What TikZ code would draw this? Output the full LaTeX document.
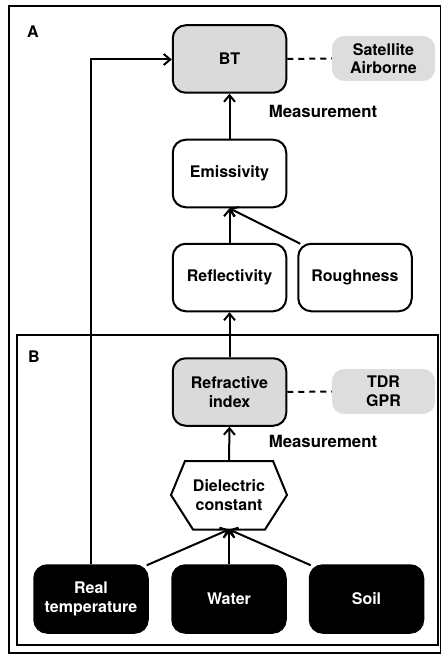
\documentclass[tikz,border=0pt]{standalone}
\usepackage{fontspec}
\setmainfont{TeX Gyre Heros}
\usetikzlibrary{arrows.meta}
\definecolor{boxgray}{HTML}{DADADA}
\definecolor{labgray}{HTML}{DDDDDD}
\begin{document}
\begin{tikzpicture}[x=1pt,y=-1pt,
 every node/.style={font=\fontsize{16}{18.5}\selectfont\bfseries, align=center},
 wbox/.style={draw, line width=2pt, rounded corners=13pt, minimum width=113.5pt, minimum height=67.5pt, inner sep=0pt, fill=white},
 gbox/.style={wbox, fill=boxgray},
 kbox/.style={wbox, fill=black, text=white},
 tag/.style={fill=labgray, rounded corners=12pt, minimum width=103pt, minimum height=45pt, inner sep=0pt},
 meas/.style={font=\fontsize{16.8}{19}\selectfont\bfseries},
 arr/.style={line width=2pt, -{Straight Barb[length=6.5pt,width=11pt,line width=2pt]}},
 dlink/.style={line width=2pt, dash pattern=on 6pt off 5pt},
 frame/.style={line width=1.8pt}]
\useasboundingbox (0,0) rectangle (441,655);
% frames
\draw[frame] (9,6) rectangle (441,653);
\draw[frame] (17,335) rectangle (438,645);
\node (labA) at (33,32) {A};
\node (labB) at (34,357) {B};
% nodes
\node[gbox] (bt) at (229.5,59) {BT};
\node[tag] (sat) at (383.5,58.5) {Satellite\\Airborne};
\node[meas] (meas1) at (323,111) {Measurement};
\node[wbox] (emis) at (229.5,173.5) {Emissivity};
\node[wbox] (refl) at (229.5,277.5) {Reflectivity};
\node[wbox] (rough) at (355,277.5) {Roughness};
\node[gbox] (refr) at (229.5,392) {Refractive\\index};
\node[tag] (tdr) at (383.5,391.5) {TDR\\GPR};
\node[meas] (meas2) at (323,441) {Measurement};
\node[inner sep=0pt] (diel) at (229,495) {Dielectric\\constant};
\draw[line width=2pt, line join=miter] (171,495) -- (185,461) -- (273,461) -- (287,495) -- (265,529.5) -- (193,529.5) -- cycle;
\coordinate (dtop) at (229,461);
\coordinate (dbot) at (229,529.5);
\node[kbox] (temp) at (91,599) {Real\\temperature};
\node[kbox] (water) at (229,599) {Water};
\node[kbox] (soil) at (366.5,599) {Soil};
% connectors
\draw[arr] (emis.north) -- (bt.south);
\draw[arr] (refl.north) -- (emis.south);
\draw[arr] (rough.north west) ++(3,1) -- (emis.south);
\draw[arr] (dtop) -- (refr.south);
\draw[arr] (refr.north) -- (refl.south);
\draw[arr] (water.north) -- (dbot);
\draw[arr] (temp.north east) ++(-2,1) -- (dbot);
\draw[arr] (soil.north west) ++(2,1) -- (dbot);
\draw[arr] (temp.north) -- (91,59.5) -- (bt.west |- 0,59.5);
\draw[dlink] (bt.east) -- (sat.west);
\draw[dlink] (refr.east) -- (tdr.west);
\end{tikzpicture}
\end{document}
